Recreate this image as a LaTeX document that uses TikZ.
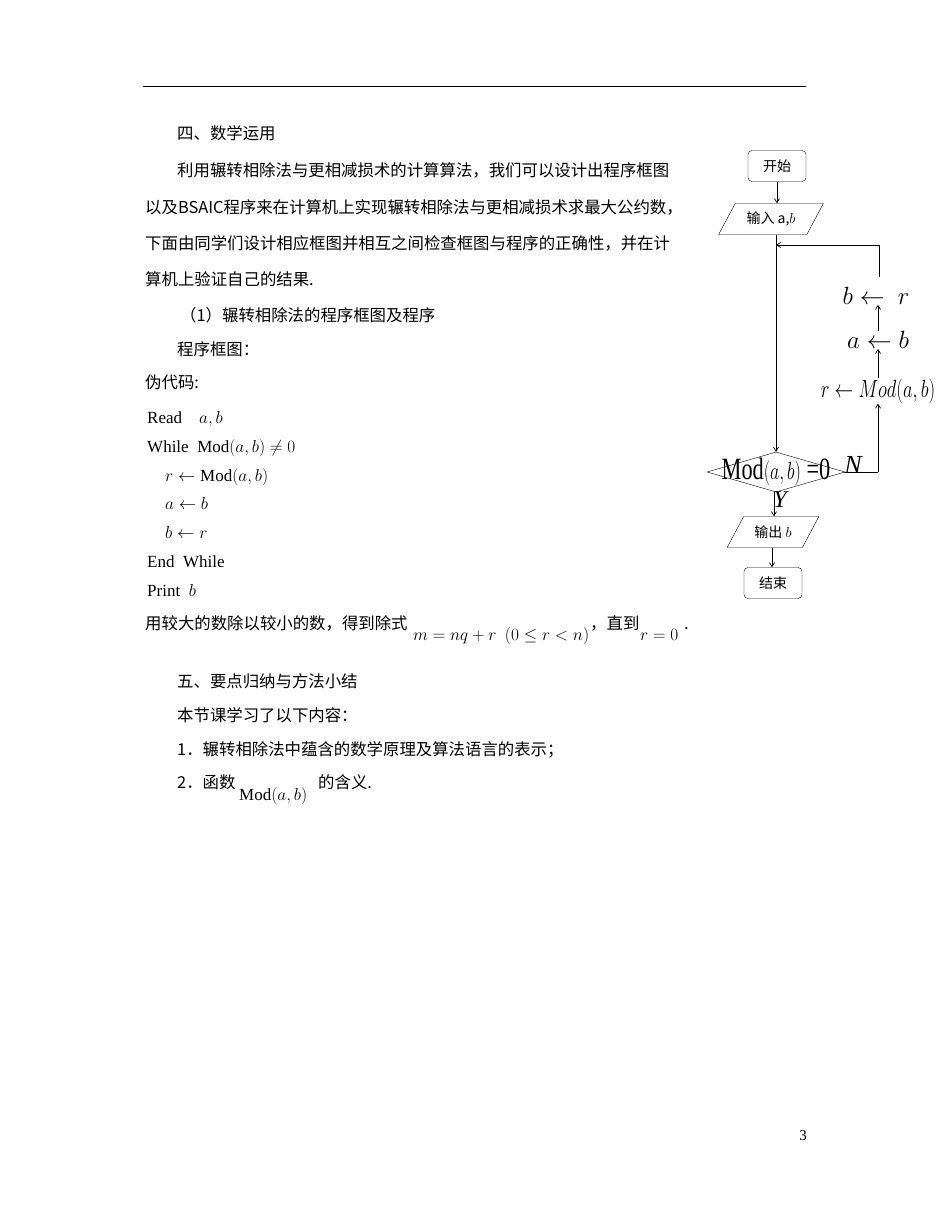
\documentclass[tikz,border=0pt]{standalone}
\usepackage{fontspec}
\setmainfont{Liberation Serif}
\newfontfamily\cjk{Noto Sans CJK SC}
\usetikzlibrary{shapes.geometric,arrows.meta}
\begin{document}
\begin{tikzpicture}[x=1pt,y=-1pt,
  txt/.style={anchor=base west,inner sep=0pt,font=\cjk\fontsize{16.4}{18}\selectfont},
  code/.style={anchor=base west,inner sep=0pt,font=\fontsize{17}{20}\selectfont},
  rbox/.style={draw,rounded corners=4pt,minimum width=58pt,minimum height=31pt,font=\cjk\fontsize{14}{16}\selectfont},
  para/.style={draw,trapezium,trapezium left angle=62,trapezium right angle=118,minimum height=31pt,inner xsep=0pt,font=\cjk\fontsize{14}{16}\selectfont},
  big/.style={inner sep=0pt,font=\fontsize{25}{28}\selectfont},
  arr/.style={-{Straight Barb[length=4pt,width=5pt]},line width=0.7pt},
  ln/.style={line width=0.7pt}]
\useasboundingbox (0,0) rectangle (950,1222);
\draw[line width=0.8pt] (143,86) -- (806,86);
\node[txt] at (177,140) {四、数学运用};
\node[txt] at (177,177) {利用辗转相除法与更相减损术的计算算法，我们可以设计出程序框图};
\node[txt] at (145,214) {以及BSAIC程序来在计算机上实现辗转相除法与更相减损术求最大公约数，};
\node[txt] at (145,250) {下面由同学们设计相应框图并相互之间检查框图与程序的正确性，并在计};
\node[txt] at (145,286) {算机上验证自己的结果.};
\node[txt] at (180,321) {（1）辗转相除法的程序框图及程序};
\node[txt] at (177,355) {程序框图：};
\node[txt] at (145,388) {伪代码:};
\node[code] at (147,423) {Read\quad $a,b$};
\node[code] at (147,452) {While\ \ Mod$(a,b)\neq0$};
\node[code] at (165,481) {$r\leftarrow{}$Mod$(a,b)$};
\node[code] at (165,509) {$a\leftarrow b$};
\node[code] at (165,538) {$b\leftarrow r$};
\node[code] at (147,567) {End\ \ While};
\node[code] at (147,596) {Print\ \ $b$};
\node[txt] at (145,629) {用较大的数除以较小的数，得到除式};
\node[code] at (413,640) {$m=nq+r\ \ (0\leq r<n)$};
\node[txt] at (590,629) {，直到};
\node[code] at (640,640) {$r=0$};
\node[txt] at (684,629) {.};
\node[txt] at (177,687) {五、要点归纳与方法小结};
\node[txt] at (177,721) {本节课学习了以下内容：};
\node[txt] at (177,755) {1．辗转相除法中蕴含的数学原理及算法语言的表示；};
\node[txt] at (177,788) {2．函数};
\node[code] at (239,800) {Mod$(a,b)$};
\node[txt] at (318,788) {的含义.};
\node[anchor=base,inner sep=0pt,font=\fontsize{15}{18}\selectfont] at (803,1140) {3};
% flowchart
\node[rbox] (start) at (777,166) {开始};
\node[para,minimum width=70pt] (in) at (771,219) {输入 a,$b$};
\node[draw,diamond,aspect=3.45,minimum width=138pt,minimum height=40pt,inner sep=0pt] (dec) at (776,472) {};
\node[big,font=\fontsize{31}{32}\selectfont] (mod) at (776,472) {\scalebox{0.72}[1]{Mod$(a,b)$ =0}};
\node[big,font=\fontsize{26}{28}\selectfont\itshape] (N) at (853,465) {N};
\node[big,font=\fontsize{24}{28}\selectfont\itshape] (Y) at (780,500) {Y};
\node[para,minimum width=70pt] (out) at (773,532) {输出 $b$};
\node[rbox] (end) at (773,583) {结束};
\node[big] (s1) at (878,391) {\scalebox{0.75}[1]{$r\leftarrow Mod(a,b)$}};
\node[big] (s2) at (878,340) {$a\leftarrow b$};
\node[big] (s3) at (876,296) {$b\leftarrow\ r$};
\coordinate (m) at (776,245);
\coordinate (c) at (879,245);
\coordinate (d) at (879,277);
\coordinate (e) at (878,472);
\draw[arr] (start) -- (start|-in.north);
\draw[arr] (in.south -| dec.north) -- (dec.north);
\draw[arr] (d) -- (c) -- (m);
\draw[ln] (dec.east) -- (e);
\draw[arr] (e) -- (s1.south -| e);
\draw[arr] (s1.north -| e) -- (s2.south -| e);
\draw[arr] (s2.north -| e) -- (s3.south -| e);
\draw[arr] (dec.south -| 774,0) -- (out.north -| 774,0);
\draw[arr] (out.south -| 772,0) -- (end.north -| 772,0);
\end{tikzpicture}
\end{document}
